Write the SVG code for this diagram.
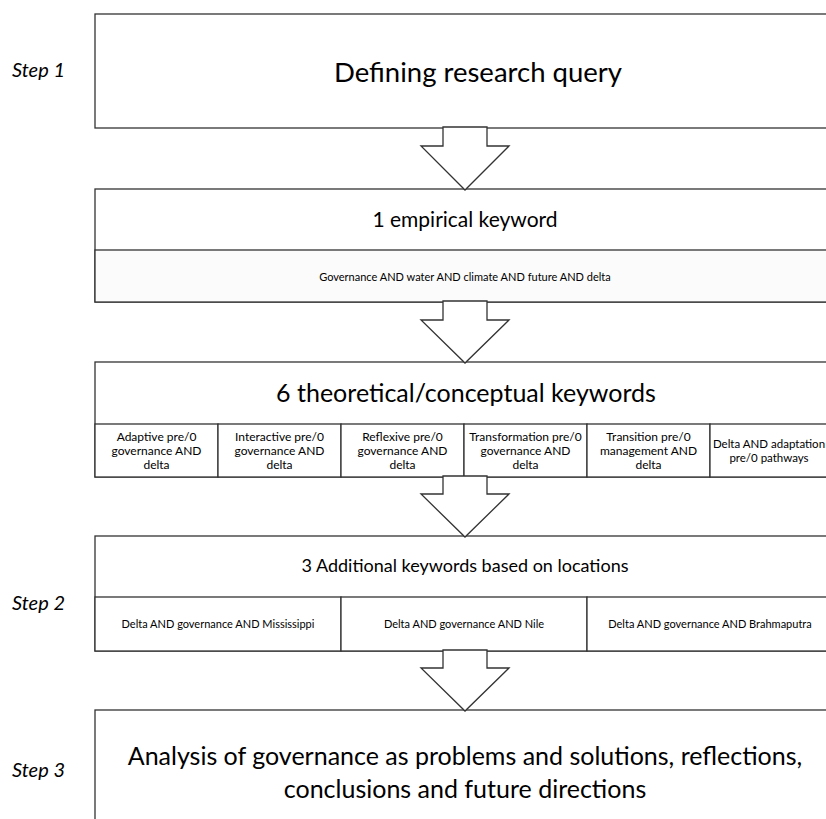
<svg xmlns="http://www.w3.org/2000/svg" width="826" height="819" viewBox="0 0 826 819">
<style>
text{font-family:Lato,"Liberation Sans",sans-serif;fill:#000;text-anchor:middle}
.box{fill:#fff;stroke:#333;stroke-width:1.3}
.sub{fill:#fbfbfb;stroke:#333;stroke-width:1.3}
.arr{fill:#fff;stroke:#333;stroke-width:1.3;stroke-linejoin:miter}
.step{font-style:italic;font-size:20px;text-anchor:start}
.s{font-size:11px}
.c{font-size:12px}
</style>
<rect width="826" height="819" fill="#fff"/>
<text class="step" x="12" y="77">Step 1</text>
<text class="step" x="12" y="610">Step 2</text>
<text class="step" x="12" y="777">Step 3</text>

<g id="n1">
<rect class="box" x="95" y="14" width="745" height="114"/>
<text x="478" y="82" font-size="27.5">Defining research query</text>
</g>
<g id="n2">
<rect class="box" x="95" y="189" width="745" height="113"/>
<rect class="sub" x="95" y="250" width="745" height="52"/>
<text x="465" y="227" font-size="21">1 empirical  keyword</text>
<text class="s" x="465" y="281">Governance AND water AND climate AND future AND delta</text>
</g>
<g id="n3">
<rect class="box" x="95" y="362" width="745" height="115"/>
<text x="466" y="402" font-size="25">6 theoretical/conceptual keywords</text>
<g>
<rect class="box" x="95" y="424" width="123" height="53"/>
<rect class="box" x="218" y="424" width="123" height="53"/>
<rect class="box" x="341" y="424" width="123" height="53"/>
<rect class="box" x="464" y="424" width="123" height="53"/>
<rect class="box" x="587" y="424" width="123" height="53"/>
<rect class="box" x="710" y="424" width="130" height="53"/>
</g>
<text class="c" x="156.5" y="441">Adaptive pre/0</text>
<text class="c" x="156.5" y="455">governance AND</text>
<text class="c" x="156.5" y="469">delta</text>
<text class="c" x="279.5" y="441">Interactive pre/0</text>
<text class="c" x="279.5" y="455">governance AND</text>
<text class="c" x="279.5" y="469">delta</text>
<text class="c" x="402.5" y="441">Reflexive pre/0</text>
<text class="c" x="402.5" y="455">governance AND</text>
<text class="c" x="402.5" y="469">delta</text>
<text class="c" x="525.5" y="441">Transformation pre/0</text>
<text class="c" x="525.5" y="455">governance AND</text>
<text class="c" x="525.5" y="469">delta</text>
<text class="c" x="648.5" y="441">Transition pre/0</text>
<text class="c" x="648.5" y="455">management AND</text>
<text class="c" x="648.5" y="469">delta</text>
<text x="769" y="448" font-size="11.5">Delta AND adaptation</text>
<text x="769" y="462" font-size="11.5">pre/0 pathways</text>
</g>
<g id="n4">
<rect class="box" x="95" y="536" width="745" height="115"/>
<text x="465" y="572" font-size="18">3 Additional keywords based on locations</text>
<rect class="box" x="95" y="597" width="246" height="54"/>
<rect class="box" x="341" y="597" width="246" height="54"/>
<rect class="box" x="587" y="597" width="253" height="54"/>
<text class="s" x="218" y="628">Delta AND governance AND Mississippi</text>
<text class="s" x="464" y="628">Delta AND governance AND Nile</text>
<text class="s" x="710" y="628">Delta AND governance AND Brahmaputra</text>
</g>
<g id="n5">
<rect class="box" x="95" y="710" width="745" height="130"/>
<text x="465" y="765" font-size="25">Analysis of governance as problems and solutions, reflections,</text>
<text x="465" y="798" font-size="25">conclusions and future directions</text>
</g>

<g id="connectors">
<polygon class="arr" points="443,127 487,127 487,146 509,146 465,190 421,146 443,146"/>
<polygon class="arr" points="443,301 487,301 487,320 509,320 465,363 421,320 443,320"/>
<polygon class="arr" points="443,476 487,476 487,494 509,494 465,537 421,494 443,494"/>
<polygon class="arr" points="443,650 487,650 487,668 509,668 465,711 421,668 443,668"/>
</g>
</svg>
